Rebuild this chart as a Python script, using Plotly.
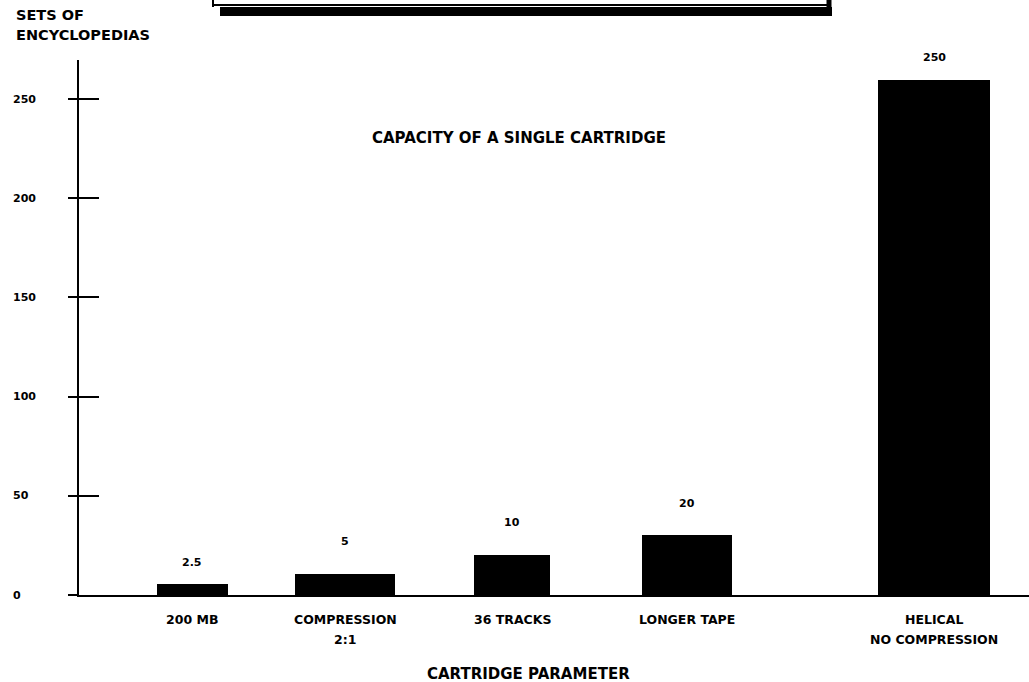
import plotly.graph_objects as go

# ---- data ----
categories = ["200 MB", "COMPRESSION<br>2:1", "36 TRACKS", "LONGER TAPE", "HELICAL<br>NO COMPRESSION"]
bar_heights = [5.5, 10.5, 20, 30, 259.5]          # heights as drawn
value_labels = ["2.5", "5", "10", "20", "250"]      # printed values
y_ticks = [0, 50, 100, 150, 200, 250]

# ---- layout constants (positions / sizes) ----
W, H = 1029, 682
L, R, T, B = 79, 0, 60, 87
PW, PH = W - L - R, H - T - B
bar_centers = [113, 266, 433, 608, 855]
bar_widths = [71, 100, 76, 90, 112]
label_shift = [22, 33, 33, 32, 23]
Y_MAX = 269.7
FONT = "DejaVu Sans"


def px(x, y):
    return (x - L) / PW, (H - B - y) / PH


fig = go.Figure()
fig.add_trace(go.Bar(
    x=bar_centers, y=bar_heights, width=bar_widths,
    marker=dict(color="black", line=dict(width=0)),
    hoverinfo="skip", showlegend=False,
))
# invisible trace to hold the inside-tick overlay axis
fig.add_trace(go.Scatter(x=[bar_centers[0]], y=[0], yaxis="y2", mode="markers",
                         marker=dict(opacity=0), showlegend=False, hoverinfo="skip"))

ann = []
# value labels above bars
for xc, h, lab, sh in zip(bar_centers, bar_heights, value_labels, label_shift):
    ann.append(dict(x=xc, y=h, xref="x", yref="y", text=lab, showarrow=False,
                    xanchor="center", yanchor="middle", yshift=sh,
                    font=dict(family=FONT, size=11, color="black", weight="bold")))
# y tick labels, left aligned
for v in y_ticks:
    ann.append(dict(x=px(11, 0)[0], y=v, xref="paper", yref="y", text=str(v), showarrow=False,
                    xanchor="left", yanchor="middle",
                    font=dict(family=FONT, size=11, color="black", weight="bold")))
# category labels (one annotation per line)
for xc, cat in zip(bar_centers, categories):
    for i, line in enumerate(cat.split("<br>")):
        ann.append(dict(x=xc, y=0, xref="x", yref="paper", text=line, showarrow=False,
                        xanchor="center", yanchor="middle", yshift=-24 - 20 * i,
                        font=dict(family=FONT, size=12.5, color="black", weight="bold")))
# titles
ann.append(dict(x=px(519, 0)[0], y=px(0, 138)[1], xref="paper", yref="paper",
                text="CAPACITY OF A SINGLE CARTRIDGE", showarrow=False,
                xanchor="center", yanchor="middle",
                font=dict(family=FONT, size=15, color="black", weight="bold")))
ann.append(dict(x=px(528, 0)[0], y=px(0, 674)[1], xref="paper", yref="paper",
                text="CARTRIDGE PARAMETER", showarrow=False,
                xanchor="center", yanchor="middle",
                font=dict(family=FONT, size=15, color="black", weight="bold")))
for i, line in enumerate(["SETS OF", "ENCYCLOPEDIAS"]):
    ann.append(dict(x=px(14, 0)[0], y=px(0, 15 + 20 * i)[1], xref="paper", yref="paper",
                    text=line, showarrow=False, xanchor="left", yanchor="middle",
                    font=dict(family=FONT, size=14.5, color="black", weight="bold")))

# cropped header box at top
shapes = []
x0, y0 = px(220, 7)
x1, y1 = px(832, 16)
shapes.append(dict(type="rect", xref="paper", yref="paper", x0=x0, x1=x1, y0=y0, y1=y1,
                   fillcolor="black", line=dict(width=0)))
a, b = px(213, 5)
c, d = px(830, 5)
shapes.append(dict(type="line", xref="paper", yref="paper", x0=a, y0=b, x1=c, y1=d,
                   line=dict(color="black", width=2)))
a, b = px(213, 0)
c, d = px(213, 7)
shapes.append(dict(type="line", xref="paper", yref="paper", x0=a, y0=b, x1=c, y1=d,
                   line=dict(color="black", width=2)))
a, b = px(829, 0)
c, d = px(829, 16)
shapes.append(dict(type="line", xref="paper", yref="paper", x0=a, y0=b, x1=c, y1=d,
                   line=dict(color="black", width=5)))

fig.update_layout(
    width=W, height=H,
    margin=dict(l=L, r=R, t=T, b=B, pad=0),
    paper_bgcolor="white", plot_bgcolor="white",
    bargap=0,
    xaxis=dict(range=[0, PW], showgrid=False, zeroline=False, showline=True,
               linecolor="black", linewidth=2, showticklabels=False, ticks=""),
    yaxis=dict(range=[0, Y_MAX], showgrid=False, zeroline=False, showline=True,
               linecolor="black", linewidth=2, tickvals=y_ticks, ticks="outside",
               ticklen=9, tickwidth=2, tickcolor="black", showticklabels=False),
    yaxis2=dict(range=[0, Y_MAX], overlaying="y", side="left", showgrid=False,
                zeroline=False, showline=False, tickvals=y_ticks, ticks="inside",
                ticklen=20, tickwidth=2, tickcolor="black", showticklabels=False),
    annotations=ann,
    shapes=shapes,
    showlegend=False,
)

fig.write_html("out.html", config={"displayModeBar": False},
               post_script="document.body.style.margin='0px';")
